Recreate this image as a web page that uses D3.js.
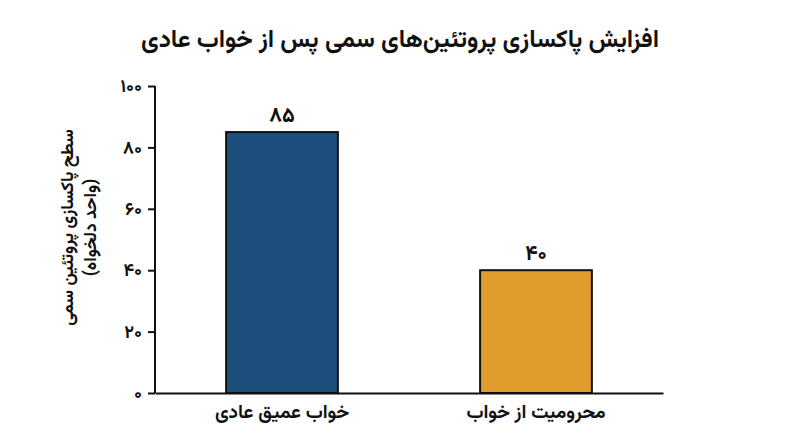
<!DOCTYPE html>
<html>
<head>
<meta charset="utf-8">
<script src="https://cdn.jsdelivr.net/npm/d3@7"></script>
<style>
  body { margin: 0; background: #fff; }
  text { font-family: Vazirmatn, "Noto Sans Arabic", "DejaVu Sans", sans-serif; fill: #111; }
</style>
</head>
<body>
<div id="chart"></div>
<script>
// chart data
const categories = ["خواب عمیق عادی", "محرومیت از خواب"];
const values = [85, 40];
const barColors = ["#1d4e7c", "#e09b2d"];
const yTicks = [0, 20, 40, 60, 80, 100];
const titleText = "افزایش پاکسازی پروتئین‌های سمی پس از خواب عادی";
const yLabelLines = ["سطح پاکسازی پروتئین سمی", "(واحد دلخواه)"];

const width = 800;
const height = 447;
const margin = { top: 86, right: 137, bottom: 54, left: 155 };

// persian digits
const faDigits = "۰۱۲۳۴۵۶۷۸۹";
const toFa = n => String(n).replace(/\d/g, d => faDigits[+d]);

const svg = d3.select('#chart').append('svg')
    .attr('width', width)
    .attr('height', height);

const x = d3.scaleBand()
    .domain(categories)
    .range([margin.left, width - margin.right])
    .paddingInner(0.56)
    .paddingOuter(0.28);

const y = d3.scaleLinear()
    .domain([0, 100])
    .range([height - margin.bottom, margin.top]);

// title
svg.append('text')
    .attr('x', width / 2)
    .attr('y', 47)
    .attr('text-anchor', 'middle')
    .style('font-size', '24.5px')
    .style('font-weight', 'bold')
    .text(titleText);

// bars
svg.selectAll('rect.bar')
    .data(values)
    .join('rect')
    .attr('class', 'bar')
    .attr('x', (d, i) => x(categories[i]))
    .attr('y', d => y(d))
    .attr('width', x.bandwidth())
    .attr('height', d => y(0) - y(d))
    .attr('fill', (d, i) => barColors[i])
    .attr('stroke', '#111')
    .attr('stroke-width', 2);

// value labels
svg.selectAll('text.val')
    .data(values)
    .join('text')
    .attr('class', 'val')
    .attr('x', (d, i) => x(categories[i]) + x.bandwidth() / 2)
    .attr('y', d => y(d) - 10)
    .attr('text-anchor', 'middle')
    .style('font-size', '21px')
    .style('font-weight', 'bold')
    .text(d => toFa(d));

// y axis
const yAxis = svg.append('g')
    .attr('transform', `translate(${margin.left},0)`)
    .call(d3.axisLeft(y).tickValues(yTicks).tickSize(7).tickPadding(6).tickFormat(toFa));
yAxis.select('.domain').attr('stroke', '#111').attr('stroke-width', 2)
    .attr('d', `M0,${y(100)}V${y(0)}`);
yAxis.selectAll('.tick line').attr('stroke', '#111').attr('stroke-width', 2);
yAxis.selectAll('.tick text')
    .style('font-size', '18px')
    .style('font-weight', 'bold')
    .attr('fill', '#111');

// x axis
const xAxis = svg.append('g')
    .attr('transform', `translate(0,${y(0)})`)
    .call(d3.axisBottom(x).tickSize(0).tickPadding(12));
xAxis.select('.domain').attr('stroke', '#111').attr('stroke-width', 2);
xAxis.selectAll('.tick text')
    .style('font-size', '19px')
    .style('font-weight', 'bold')
    .attr('fill', '#111');

// y axis label
const yl = svg.append('text')
    .attr('transform', `translate(73,${(y(0) + y(100)) / 2 - 12}) rotate(-90)`)
    .attr('text-anchor', 'middle')
    .style('font-size', '17.5px')
    .style('font-weight', 'bold');
yl.selectAll('tspan')
    .data(yLabelLines)
    .join('tspan')
    .attr('x', 0)
    .attr('dy', (d, i) => i === 0 ? 0 : 23)
    .text(d => d);
</script>
</body>
</html>
